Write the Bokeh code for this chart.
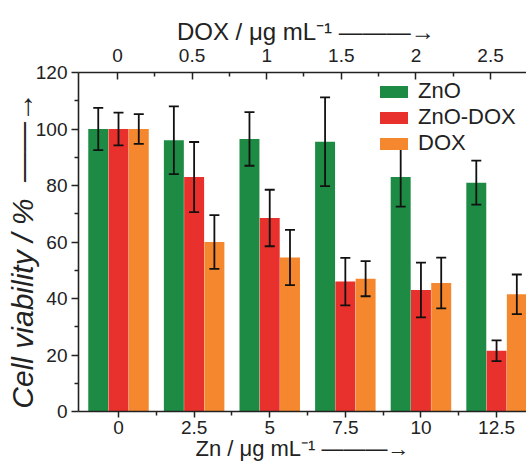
from bokeh.plotting import figure
from bokeh.models import (ColumnDataSource, Range1d, LinearAxis, FixedTicker, Whisker,
                          TeeHead, Legend, LegendItem)
from bokeh.embed import file_html
from bokeh.resources import INLINE

# ---- data ----
zn_conc = [0, 2.5, 5, 7.5, 10, 12.5]
zn_labels = ["0", "2.5", "5", "7.5", "10", "12.5"]
zn_minor = [1.25, 3.75, 6.25, 8.75, 11.25]
dox_conc = [0, 0.5, 1, 1.5, 2, 2.5]
dox_labels = ["0", "0.5", "1", "1.5", "2", "2.5"]
dox_minor = [0.25, 0.75, 1.25, 1.75, 2.25]
y_ticks = [0, 20, 40, 60, 80, 100, 120]
y_minor = [10, 30, 50, 70, 90, 110]

zno = [100, 96, 96.5, 95.5, 83, 81]
zno_err = [7.5, 12, 9.5, 15.7, 10.5, 7.8]
zno_dox = [100, 83, 68.5, 46, 43, 21.5]
zno_dox_err = [5.8, 12.4, 10, 8.4, 9.7, 3.7]
dox = [100, 60, 54.5, 47, 45.5, 41.5]
dox_err = [5.3, 9.5, 9.8, 6.2, 9, 7]

series_names = ["ZnO", "ZnO-DOX", "DOX"]
series_vals = [zno, zno_dox, dox]
series_errs = [zno_err, zno_dox_err, dox_err]
colors = ["#1e8b45", "#e8302c", "#f5882e"]

NB = "\u00a0"
top_title = NB + "DOX / \u03bcg mL\u207b\u00b9" + NB + "\u2014\u2014\u2014\u2192"
bottom_title = "Zn / \u03bcg mL\u207b\u00b9" + NB + "\u2014\u2014\u2014\u2192"
left_title = "Cell viability / %" + NB * 2 + "\u2014\u2014\u2192" + NB * 2

# ---- style ----
FONT = "Liberation Sans"
TXT = "#222222"
bar_w = 0.66
offsets = [-0.67, 0.0, 0.67]

p = figure(width=526, height=465, output_backend="svg", toolbar_location=None,
           x_range=Range1d(-1.323, 13.49), y_range=Range1d(0, 120),
           x_axis_type=None, y_axis_type=None,
           min_border_left=78, min_border_right=0, min_border_top=72, min_border_bottom=54)
p.outline_line_color = None
p.xgrid.visible = False
p.ygrid.visible = False
p.extra_x_ranges = {"dox": Range1d(-0.261, 2.741)}

items = []
for name, vals, errs, col, off in zip(series_names, series_vals, series_errs, colors, offsets):
    src = ColumnDataSource(dict(
        x=[c + off for c in zn_conc], top=vals,
        upper=[v + e for v, e in zip(vals, errs)],
        lower=[v - e for v, e in zip(vals, errs)]))
    r = p.vbar(x="x", top="top", width=bar_w, bottom=0, source=src,
               fill_color=col, line_color=None)
    w = Whisker(source=src, base="x", upper="upper", lower="lower",
                line_color="#111111", line_width=1.8, level="overlay",
                upper_head=TeeHead(size=10, line_width=1.8, line_color="#111111"),
                lower_head=TeeHead(size=10, line_width=1.8, line_color="#111111"))
    p.add_layout(w)
    items.append(LegendItem(label=name, renderers=[r]))

legend = Legend(items=items, location=(298, 255), glyph_width=35, glyph_height=15,
                label_text_font=FONT, label_text_font_size="22px", label_text_color=TXT,
                label_standoff=7, spacing=-4, padding=0, margin=0, label_height=15,
                border_line_color=None, background_fill_alpha=0)
p.add_layout(legend)

def style_axis(ax):
    ax.axis_line_color = TXT
    ax.axis_line_width = 1.6
    ax.major_tick_line_color = TXT
    ax.major_tick_line_width = 1.5
    ax.minor_tick_line_color = TXT
    ax.minor_tick_line_width = 1.5
    ax.major_label_text_font = FONT
    ax.major_label_text_font_size = "19px"
    ax.major_label_text_color = TXT
    ax.axis_label_text_font = FONT
    ax.axis_label_text_color = TXT
    ax.axis_label_text_font_style = "normal"

bottom = LinearAxis(ticker=FixedTicker(ticks=zn_conc, minor_ticks=zn_minor),
                    major_label_overrides={c: l for c, l in zip(zn_conc, zn_labels)},
                    axis_label=bottom_title)
style_axis(bottom)
bottom.major_tick_out = 6
bottom.major_tick_in = 0
bottom.minor_tick_out = 4
bottom.minor_tick_in = 0
bottom.major_label_standoff = 3
bottom.axis_label_text_font_size = "22px"
bottom.axis_label_standoff = -1
p.add_layout(bottom, "below")

top = LinearAxis(x_range_name="dox", ticker=FixedTicker(ticks=dox_conc, minor_ticks=dox_minor),
                 major_label_overrides={c: l for c, l in zip(dox_conc, dox_labels)},
                 axis_label=top_title)
style_axis(top)
top.major_tick_out = 0
top.major_tick_in = 7
top.minor_tick_out = 0
top.minor_tick_in = 4
top.major_label_standoff = 11
top.axis_label_text_font_size = "24px"
top.axis_label_standoff = 1
p.add_layout(top, "above")

left = LinearAxis(ticker=FixedTicker(ticks=y_ticks, minor_ticks=y_minor),
                  axis_label=left_title)
style_axis(left)
left.major_tick_out = 7
left.major_tick_in = 0
left.minor_tick_out = 4
left.minor_tick_in = 0
left.major_label_standoff = 4
left.axis_label_text_font_size = "30px"
left.axis_label_text_font_style = "italic"
left.axis_label_standoff = -6
p.add_layout(left, "left")

open("out.html", "w").write(file_html(p, INLINE))
